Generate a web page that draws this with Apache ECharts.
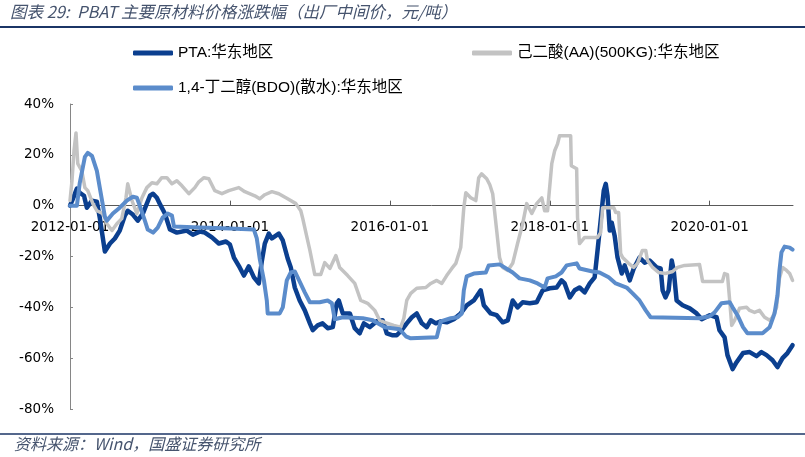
<!DOCTYPE html>
<html>
<head>
<meta charset="utf-8">
<title>PBAT 主要原材料价格涨跌幅</title>
<script src="https://cdn.jsdelivr.net/npm/echarts@6/dist/echarts.min.js"></script>
<style>
html, body { margin: 0; padding: 0; background: #fff; }
#main { width: 805px; height: 457px; }
</style>
</head>
<body>
<div id="main"></div>
<script>
// 涨跌幅 (%)，[日期, 值]
var xTickDates = ['2012-01-01', '2014-01-01', '2016-01-01', '2018-01-01', '2020-01-01'];
var yTicks = [-80, -60, -40, -20, 0, 20, 40];

var ptaName = 'PTA:华东地区';
var aaName = '己二酸(AA)(500KG):华东地区';
var bdoName = '1,4-丁二醇(BDO)(散水):华东地区';

var pta = [
  ['2012-01-01', 0], ['2012-01-14', 2.7], ['2012-02-02', 6.7], ['2012-02-15', 5.1], ['2012-03-04', 3.9],
  ['2012-03-17', -0.8], ['2012-04-10', 2.0], ['2012-05-02', 1.6], ['2012-05-15', -4.7], ['2012-06-08', -18],
  ['2012-07-01', -14.9], ['2012-07-23', -12.9], ['2012-08-15', -9.8], ['2012-09-08', -3.9], ['2012-09-21', -2.0],
  ['2012-10-14', -3.5], ['2012-11-06', -5.9], ['2012-11-29', -3.1], ['2013-01-01', 3.9], ['2013-01-15', 4.7],
  ['2013-02-02', 3.1], ['2013-02-15', 0.8], ['2013-03-08', -3.1], ['2013-04-01', -9.4], ['2013-05-02', -10.6],
  ['2013-06-17', -9.8], ['2013-07-14', -11.4], ['2013-08-15', -10.2], ['2013-09-08', -10.6], ['2013-10-10', -12.5],
  ['2013-11-11', -14.9], ['2013-12-13', -14.1], ['2014-01-01', -15.3], ['2014-01-19', -20.4], ['2014-02-15', -24.3],
  ['2014-03-04', -27.5], ['2014-03-26', -23.9], ['2014-04-19', -28.2], ['2014-05-11', -30.6], ['2014-05-25', -21.6],
  ['2014-06-08', -14.9], ['2014-06-26', -11.0], ['2014-07-10', -12.9], ['2014-08-11', -11.0], ['2014-08-29', -13.7],
  ['2014-09-21', -20.8], ['2014-10-05', -24.3], ['2014-10-23', -32.2], ['2014-11-15', -37.3], ['2014-12-08', -41.2],
  ['2015-01-01', -46.3], ['2015-01-14', -49.0], ['2015-02-06', -47.1], ['2015-02-28', -46.3], ['2015-03-21', -48.2],
  ['2015-04-14', -47.8], ['2015-05-02', -38.4], ['2015-05-11', -37.3], ['2015-05-29', -42.4], ['2015-07-01', -42.4],
  ['2015-07-23', -48.2], ['2015-08-15', -50.2], ['2015-09-04', -46.3], ['2015-10-01', -47.8], ['2015-11-02', -45.5],
  ['2015-11-29', -45.1], ['2015-12-17', -50.2], ['2016-01-14', -51.0], ['2016-02-02', -51.0], ['2016-02-24', -49.0],
  ['2016-03-17', -46.3], ['2016-04-10', -43.9], ['2016-05-02', -42.4], ['2016-05-25', -46.3], ['2016-06-17', -47.8],
  ['2016-07-05', -45.1], ['2016-07-28', -46.3], ['2016-08-20', -45.5], ['2016-09-17', -45.9], ['2016-10-19', -44.7],
  ['2016-11-20', -42.4], ['2016-12-17', -39.2], ['2017-01-19', -37.3], ['2017-02-20', -33.3], ['2017-03-04', -39.2],
  ['2017-04-05', -42.4], ['2017-05-02', -43.1], ['2017-05-29', -45.9], ['2017-06-22', -45.1], ['2017-07-14', -37.3],
  ['2017-08-06', -40.0], ['2017-08-29', -38.0], ['2017-10-01', -38.4], ['2017-11-02', -38.0], ['2017-11-29', -33.3],
  ['2018-01-01', -32.5], ['2018-02-02', -32.2], ['2018-02-24', -29.4], ['2018-03-08', -30.6], ['2018-04-01', -36.1],
  ['2018-04-23', -33.3], ['2018-05-15', -32.2], ['2018-06-08', -34.1], ['2018-07-01', -30.6], ['2018-07-23', -28.2],
  ['2018-08-06', -17.6], ['2018-08-20', -5.9], ['2018-09-04', 5.9], ['2018-09-13', 8.6], ['2018-09-21', 3.9],
  ['2018-10-01', -9.8], ['2018-10-10', -6.7], ['2018-10-23', -11.8], ['2018-11-06', -20.4], ['2018-11-25', -26.7],
  ['2018-12-08', -23.5], ['2019-01-01', -29.4], ['2019-01-19', -24.7], ['2019-02-15', -20.4], ['2019-03-08', -22.4],
  ['2019-04-01', -21.6], ['2019-05-02', -24.3], ['2019-05-20', -24.7], ['2019-05-29', -33.3], ['2019-06-12', -36.1],
  ['2019-06-26', -33.3], ['2019-07-10', -21.6], ['2019-07-19', -25.5], ['2019-08-02', -37.3], ['2019-08-29', -39.2],
  ['2019-10-01', -40.4], ['2019-11-02', -42.4], ['2019-11-25', -44.7], ['2020-01-01', -43.1], ['2020-02-02', -43.9],
  ['2020-02-15', -49.0], ['2020-03-08', -51.8], ['2020-03-21', -58.8], ['2020-04-14', -64.3], ['2020-05-02', -61.6],
  ['2020-06-01', -58.0], ['2020-07-01', -57.6], ['2020-08-02', -59.2], ['2020-08-24', -57.6], ['2020-09-17', -58.8],
  ['2020-10-14', -60.8], ['2020-11-06', -63.5], ['2020-11-29', -60.0], ['2020-12-21', -58.0], ['2021-01-14', -54.9]
];

var aa = [
  ['2012-01-01', 2.0], ['2012-01-10', 9.8], ['2012-01-19', 21.6], ['2012-01-28', 28.6], ['2012-02-06', 16.5],
  ['2012-02-24', 13.7], ['2012-03-08', 7.1], ['2012-03-21', 5.9], ['2012-04-14', 0.8], ['2012-05-02', -2.0],
  ['2012-05-29', -3.1], ['2012-06-17', -7.1], ['2012-07-10', -9.8], ['2012-08-02', -7.1], ['2012-08-24', -5.1],
  ['2012-09-13', 3.1], ['2012-09-21', 8.6], ['2012-10-10', 2.0], ['2012-11-02', -3.1], ['2012-11-25', 3.1],
  ['2012-12-17', 7.1], ['2013-01-10', 9.0], ['2013-02-02', 8.6], ['2013-02-24', 11.0], ['2013-03-17', 11.0],
  ['2013-04-10', 8.6], ['2013-05-02', 9.8], ['2013-05-25', 7.8], ['2013-06-26', 4.7], ['2013-07-23', 7.1],
  ['2013-08-11', 9.4], ['2013-09-04', 11.0], ['2013-09-26', 10.6], ['2013-10-23', 5.9], ['2013-11-25', 4.7],
  ['2013-12-26', 5.9], ['2014-02-11', 7.1], ['2014-03-08', 5.5], ['2014-04-23', 3.9], ['2014-05-15', 2.7],
  ['2014-06-08', 4.3], ['2014-07-10', 5.5], ['2014-08-11', 4.7], ['2014-09-21', 2.7], ['2014-10-28', 0.8],
  ['2014-11-20', -2.0], ['2014-11-29', -5.1], ['2014-12-13', -10.6], ['2015-01-01', -17.6], ['2015-01-23', -27.1],
  ['2015-02-20', -27.1], ['2015-03-08', -22.4], ['2015-04-01', -24.7], ['2015-04-28', -19.6], ['2015-05-15', -24.3],
  ['2015-06-21', -27.5], ['2015-07-23', -30.6], ['2015-08-20', -37.3], ['2015-09-21', -38.4], ['2015-10-23', -41.2],
  ['2015-11-15', -45.1], ['2015-12-08', -45.9], ['2016-01-19', -47.1], ['2016-02-20', -47.8], ['2016-03-04', -44.3],
  ['2016-03-17', -37.3], ['2016-04-05', -34.5], ['2016-05-02', -32.5], ['2016-06-13', -32.2], ['2016-07-05', -30.6],
  ['2016-08-02', -29.4], ['2016-08-25', -30.6], ['2016-09-17', -27.5], ['2016-10-10', -24.7], ['2016-10-28', -22.7],
  ['2016-11-20', -16.5], ['2016-12-04', -0.8], ['2016-12-13', 5.1], ['2017-01-05', 3.1], ['2017-01-28', 2.0],
  ['2017-02-11', 11.0], ['2017-02-24', 12.5], ['2017-03-17', 10.6], ['2017-04-01', 8.2], ['2017-04-14', 4.7],
  ['2017-05-02', -9.8], ['2017-05-15', -20.4], ['2017-05-29', -24.3], ['2017-06-22', -25.5], ['2017-07-14', -22.7],
  ['2017-08-06', -14.9], ['2017-08-29', -7.1], ['2017-09-17', 0.8], ['2017-10-10', -3.1], ['2017-11-02', 0.8],
  ['2017-11-25', 3.1], ['2017-12-08', -2.0], ['2017-12-21', -2.0], ['2018-01-10', 16.5], ['2018-01-23', 21.6],
  ['2018-02-06', 24.3], ['2018-02-15', 27.5], ['2018-04-05', 27.5], ['2018-04-08', 15.7], ['2018-05-02', 14.5],
  ['2018-05-06', -4.7], ['2018-05-15', -14.9], ['2018-06-08', -12.5], ['2018-08-06', -12.5], ['2018-08-20', -10.6],
  ['2018-08-29', -0.8], ['2018-10-19', -0.8], ['2018-10-28', -2.7], ['2018-11-11', -2.7], ['2018-11-20', -18.8],
  ['2018-11-29', -20.4], ['2018-12-26', -22.7], ['2019-01-19', -24.3], ['2019-02-06', -22.7], ['2019-02-28', -17.6],
  ['2019-03-13', -17.6], ['2019-03-21', -21.6], ['2019-04-14', -24.3], ['2019-05-11', -26.3], ['2019-06-12', -26.7],
  ['2019-07-14', -25.9], ['2019-08-06', -24.3], ['2019-09-08', -23.5], ['2019-11-15', -23.1], ['2019-11-29', -29.8],
  ['2020-02-28', -29.8], ['2020-03-08', -26.7], ['2020-03-21', -27.1], ['2020-04-01', -37.3], ['2020-04-10', -47.1],
  ['2020-04-23', -45.1], ['2020-05-15', -40.4], ['2020-06-17', -40.0], ['2020-07-01', -41.2], ['2020-07-23', -42.0],
  ['2020-08-15', -41.2], ['2020-09-08', -43.9], ['2020-10-01', -45.1], ['2020-10-14', -43.9], ['2020-11-02', -40.0],
  ['2020-11-15', -28.6], ['2020-11-29', -24.3], ['2020-12-17', -25.5], ['2021-01-01', -26.7], ['2021-01-14', -29.4]
];

var bdo = [
  ['2012-01-01', 0], ['2012-02-02', 0], ['2012-02-15', 9.0], ['2012-03-08', 19.2], ['2012-03-21', 20.8],
  ['2012-04-10', 19.6], ['2012-05-02', 13.7], ['2012-05-15', 7.1], ['2012-06-08', -4.3], ['2012-06-17', -5.9],
  ['2012-07-14', -3.1], ['2012-08-15', -0.8], ['2012-09-17', 2.0], ['2012-10-14', 3.5], ['2012-11-02', 3.1],
  ['2012-11-15', 0], ['2012-12-08', -5.9], ['2012-12-21', -9.4], ['2013-01-15', -10.6], ['2013-02-06', -8.6],
  ['2013-02-28', -4.7], ['2013-03-21', -3.1], ['2013-04-10', -3.9], ['2013-04-19', -8.2], ['2013-08-15', -8.6],
  ['2014-01-01', -9.0], ['2014-04-19', -9.4], ['2014-05-02', -12.9], ['2014-05-15', -20.8], ['2014-06-04', -29.4],
  ['2014-06-17', -37.3], ['2014-06-21', -42.4], ['2014-08-15', -42.4], ['2014-08-29', -40.0], ['2014-09-17', -29.4],
  ['2014-10-05', -26.3], ['2014-10-23', -25.9], ['2014-11-06', -28.2], ['2014-12-08', -34.1], ['2015-01-01', -38.0],
  ['2015-02-15', -38.0], ['2015-03-21', -37.3], ['2015-04-10', -38.4], ['2015-04-23', -44.7], ['2015-05-29', -43.9],
  ['2015-08-29', -44.3], ['2015-10-14', -45.1], ['2015-11-06', -46.3], ['2015-12-08', -47.8], ['2016-02-15', -48.6],
  ['2016-03-13', -51.4], ['2016-04-05', -52.2], ['2016-08-02', -51.8], ['2016-08-20', -45.5], ['2016-10-05', -44.3],
  ['2016-11-06', -43.9], ['2016-11-25', -42.4], ['2016-12-04', -33.3], ['2016-12-17', -27.8], ['2017-01-19', -26.7],
  ['2017-03-13', -26.3], ['2017-03-26', -23.5], ['2017-05-15', -23.1], ['2017-06-22', -25.1], ['2017-07-14', -26.3],
  ['2017-08-15', -28.6], ['2017-10-01', -29.4], ['2017-11-06', -30.6], ['2017-12-08', -32.2], ['2017-12-21', -28.6],
  ['2018-01-28', -27.8], ['2018-02-24', -26.3], ['2018-03-17', -23.5], ['2018-05-02', -22.7], ['2018-05-15', -24.7],
  ['2018-07-14', -25.9], ['2018-08-15', -26.3], ['2018-09-26', -28.2], ['2018-10-28', -30.6], ['2018-12-17', -32.2],
  ['2019-01-14', -34.5], ['2019-02-15', -37.3], ['2019-03-13', -41.2], ['2019-04-05', -43.9], ['2019-11-15', -44.3],
  ['2020-01-01', -43.5], ['2020-01-23', -42.0], ['2020-02-24', -38.4], ['2020-04-01', -38.0], ['2020-04-14', -40.0],
  ['2020-05-06', -43.1], ['2020-06-01', -47.8], ['2020-06-21', -50.2], ['2020-08-29', -50.2], ['2020-10-01', -47.8],
  ['2020-10-23', -42.4], ['2020-11-06', -35.3], ['2020-11-15', -25.5], ['2020-11-24', -18.4], ['2020-12-08', -16.1],
  ['2021-01-01', -16.5], ['2021-01-14', -17.3]
];

// 横轴用“自2012-01起的月数”
function toMonth(s) {
  var p = s.split('-').map(Number);
  return (p[0] - 2012) * 12 + (p[1] - 1) + (p[2] - 1) / 30;
}
function toPoints(list) {
  return list.map(function (d) { return [toMonth(d[0]), d[1]]; });
}
var xTickValues = xTickDates.map(toMonth);

var textFont = 'DejaVu Sans, Noto Sans CJK SC, sans-serif';
var legendFont = '"Liberation Sans", "Noto Sans CJK SC", sans-serif';

var gridTop = 104, gridBottom = 48, chartHeight = 457;
var yMin = yTicks[0], yMax = yTicks[yTicks.length - 1];
// 横轴画在 0% 处
var zeroOffset = -(chartHeight - gridTop - gridBottom) * (0 - yMin) / (yMax - yMin);

var myChart = echarts.init(document.getElementById('main'), null, { renderer: 'canvas' });

function legendAt(name, left, top) {
  return {
    data: [name],
    left: left,
    top: top,
    icon: 'roundRect',
    itemWidth: 40,
    itemHeight: 5,
    selectedMode: false,
    padding: 0,
    textStyle: { fontFamily: legendFont, fontSize: 15.5, lineHeight: 16, color: '#000' }
  };
}

var option = {
  animation: false,
  backgroundColor: '#fff',
  legend: [
    legendAt(ptaName, 133, 45),
    legendAt(aaName, 472, 45),
    legendAt(bdoName, 133, 80)
  ],
  grid: { left: 70, right: 12, top: gridTop, bottom: gridBottom, containLabel: false },
  xAxis: {
    type: 'value',
    min: 0,
    max: 108.5,
    interval: 24,
    offset: zeroOffset,
    splitLine: { show: false },
    axisLine: { onZero: false, lineStyle: { color: '#595959', width: 1 } },
    axisTick: { show: true, inside: true, length: 5, customValues: xTickValues, lineStyle: { color: '#595959' } },
    axisLabel: {
      customValues: xTickValues,
      margin: 15,
      fontFamily: textFont,
      fontSize: 13.5,
      color: '#000',
      formatter: function (v) {
        return (2012 + Math.round(v / 12)) + '-01-01';
      }
    }
  },
  yAxis: {
    type: 'value',
    min: yMin,
    max: yMax,
    interval: 20,
    splitLine: { show: false },
    axisLine: { show: true, onZero: false, lineStyle: { color: '#868686', width: 1 } },
    axisTick: { show: true, inside: true, length: 3, lineStyle: { color: '#868686' } },
    axisLabel: {
      margin: 16,
      fontFamily: textFont,
      fontSize: 13.5,
      color: '#000',
      formatter: '{value}%'
    }
  },
  series: [
    {
      name: ptaName, type: 'line', data: toPoints(pta), showSymbol: false, silent: true,
      color: '#0b3f8f',
      lineStyle: { width: 4.5, color: '#0b3f8f', join: 'round', cap: 'round' }
    },
    {
      name: aaName, type: 'line', data: toPoints(aa), showSymbol: false, silent: true,
      color: '#c3c3c3',
      lineStyle: { width: 3.5, color: '#c3c3c3', join: 'round', cap: 'round' }
    },
    {
      name: bdoName, type: 'line', data: toPoints(bdo), showSymbol: false, silent: true,
      color: '#5b8ccb',
      lineStyle: { width: 4, color: '#5b8ccb', join: 'round', cap: 'round' }
    }
  ],
  graphic: [
    {
      type: 'text', left: 10, top: 3,
      style: {
        text: '图表 29:  PBAT 主要原材料价格涨跌幅（出厂中间价，元/吨）',
        font: 'italic 16.5px "Noto Sans CJK SC", sans-serif',
        fill: '#46546e'
      }
    },
    { type: 'line', shape: { x1: 0, y1: 27, x2: 805, y2: 27 }, style: { stroke: '#1b3566', lineWidth: 2 } },
    { type: 'line', shape: { x1: 0, y1: 434, x2: 805, y2: 434 }, style: { stroke: '#1b3566', lineWidth: 1.5 } },
    {
      type: 'text', left: 14, top: 436,
      style: {
        text: '资料来源：Wind，国盛证券研究所',
        font: 'italic 16px "Noto Sans CJK SC", sans-serif',
        fill: '#46546e'
      }
    }
  ]
};

myChart.setOption(option);
</script>
</body>
</html>
